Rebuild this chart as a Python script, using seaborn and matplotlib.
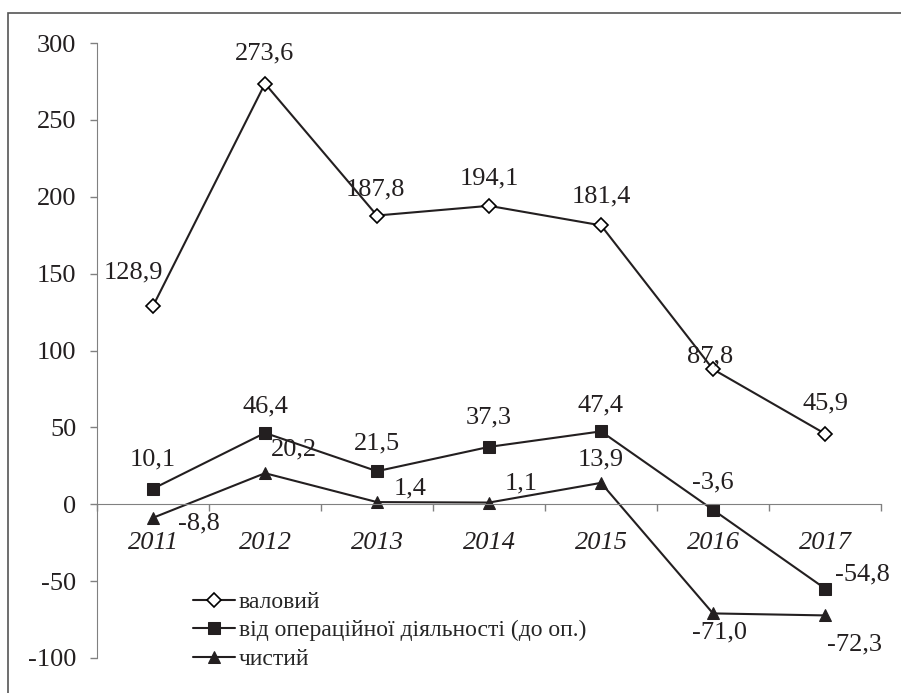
import numpy as np
import pandas as pd
import matplotlib.pyplot as plt
import seaborn as sns
from matplotlib.patches import Rectangle

# ===============================
# Données
# ===============================
years = ["2011", "2012", "2013", "2014", "2015", "2016", "2017"]
valovyi = [128.9, 273.6, 187.8, 194.1, 181.4, 87.8, 45.9]
operatsiinyi = [10.1, 46.4, 21.5, 37.3, 47.4, -3.6, -54.8]
chystyi = [-8.8, 20.2, 1.4, 1.1, 13.9, -71.0, -72.3]

series_names = ["валовий", "від операційної діяльності (до оп.)", "чистий"]
y_ticks = [-100, -50, 0, 50, 100, 150, 200, 250, 300]

# décalages des étiquettes (en points)
offsets = {
    "валовий": [(-14, 24), (0, 22), (-1, 19), (0, 20), (0, 21), (-2, 9), (0, 22)],
    "від операційної діяльності (до оп.)": [(0, 21), (0, 19), (0, 20), (0, 21), (0, 19), (0, 20), (27, 10)],
    "чистий": [(33, -4), (21, 17), (24, 10), (23, 14), (0, 17), (5, -14), (21, -21)],
}

df = pd.DataFrame({
    "x": list(range(len(years))) * 3,
    "value": valovyi + operatsiinyi + chystyi,
    "series": np.repeat(series_names, len(years)),
})

# ===============================
# Figure
# ===============================
sns.set_style("white")
plt.rcParams["font.family"] = ["Liberation Serif", "DejaVu Serif"]

fig = plt.figure(figsize=(9.01, 6.93), dpi=100)
ax = fig.add_axes([97 / 901, 35 / 693, 784 / 901, 615 / 693])

styles = {
    "валовий": dict(marker="D", markersize=7, markerfacecolor="white",
                    markeredgecolor="black", markeredgewidth=1.2),
    "від операційної діяльності (до оп.)": dict(marker="s", markersize=9,
                                                 markerfacecolor="#231f20",
                                                 markeredgecolor="#231f20"),
    "чистий": dict(marker="^", markersize=9, markerfacecolor="#231f20",
                   markeredgecolor="#231f20"),
}

for name in series_names:
    sub = df[df["series"] == name]
    sns.lineplot(data=sub, x="x", y="value", ax=ax, color="#231f20",
                 linewidth=1.5, label=name, **styles[name])
    for (xi, yi), off in zip(zip(sub["x"], sub["value"]), offsets[name]):
        ax.annotate(f"{yi:.1f}".replace(".", ","), (xi, yi), xytext=off,
                    textcoords="offset points", ha="center", va="center",
                    fontsize=19, color="#231f20")

ax.set_xlabel("")
ax.set_ylabel("")

# axes : l'axe X passe par zéro (à faire avant de styliser les ticks)
for s in ["top", "right"]:
    ax.spines[s].set_visible(False)
ax.spines["bottom"].set_position(("data", 0))
ax.spines["bottom"].set_color("#808080")
ax.spines["left"].set_color("#808080")
ax.patch.set_alpha(0)

ax.set_xlim(-0.5, len(years) - 0.5)
ax.set_ylim(-100, 300)
ax.set_yticks(y_ticks, labels=[str(t) for t in y_ticks])
ax.set_xticks(range(len(years)), labels=years, fontstyle="italic")
ax.set_xticks(np.arange(-0.5, len(years), 1), minor=True)
ax.tick_params(axis="x", which="major", length=0, pad=20, labelsize=19,
               labelcolor="#231f20")
ax.tick_params(axis="x", which="minor", length=5, width=1, color="#808080",
               direction="out", bottom=True)
ax.tick_params(axis="y", length=5, width=1, color="#808080", direction="out",
               pad=10, left=True, labelsize=19, labelcolor="#231f20")
for lab in ax.get_xticklabels():
    lab.set_fontstyle("italic")

leg = ax.legend(loc="lower left", bbox_to_anchor=(0.11, -0.035), frameon=False,
                fontsize=17, handlelength=1.8, handletextpad=0.15,
                labelspacing=0.3, borderaxespad=0.0)

# cadre extérieur
fig.patches.append(Rectangle((8 / 901, -0.1), 1.2, (693 - 13) / 693 + 0.1,
                             transform=fig.transFigure, fill=False,
                             edgecolor="#555555", linewidth=1.2))

fig.savefig("out.png", dpi=100)
